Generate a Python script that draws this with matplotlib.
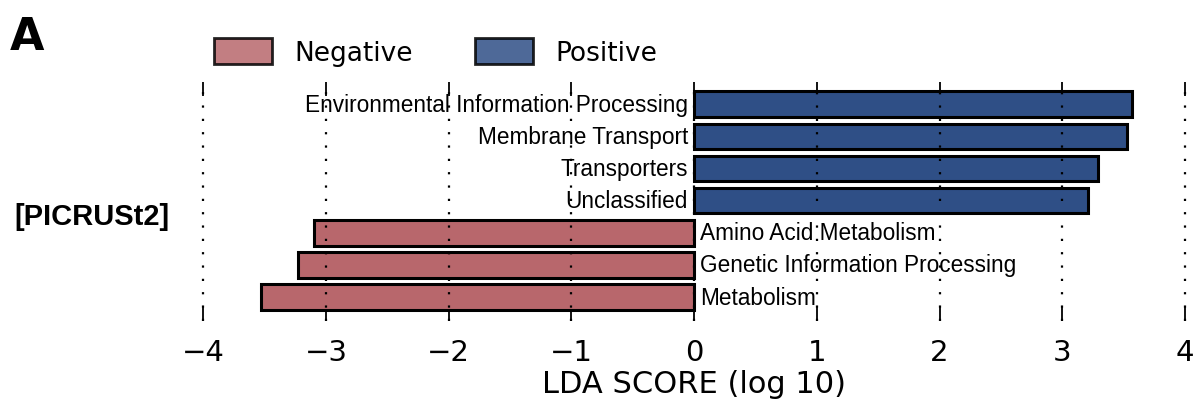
import matplotlib.pyplot as plt
from matplotlib.patches import Patch

# data, top to bottom
features = ["Environmental Information Processing", "Membrane Transport",
            "Transporters", "Unclassified", "Amino Acid Metabolism",
            "Genetic Information Processing", "Metabolism"]
lda_scores = [3.57, 3.53, 3.29, 3.21, -3.10, -3.23, -3.53]
group_names = ["Negative", "Positive"]
group_colors = {"Negative": "#b8676c", "Positive": "#2f4f86"}
x_ticks = [-4, -3, -2, -1, 0, 1, 2, 3, 4]

fig = plt.figure(figsize=(12.03, 4.14), dpi=100)
ax = fig.add_axes([0.169, 0.222, 0.816, 0.578])

n = len(features)
ypos = [n - 1 - i for i in range(n)]
colors = [group_colors["Positive"] if v > 0 else group_colors["Negative"] for v in lda_scores]
ax.barh(ypos, lda_scores, height=0.8, color=colors, edgecolor="black",
        linewidth=2.2, zorder=2)

for y, v, name in zip(ypos, lda_scores, features):
    if v > 0:
        ax.text(-0.05, y, name, ha="right", va="center", fontsize=16.3,
                family="Liberation Sans", zorder=1)
    else:
        ax.text(0.05, y, name, ha="left", va="center", fontsize=16.3,
                family="Liberation Sans", zorder=1)

ax.set_xlim(-4, 4)
ylim = (-0.75, n - 0.3)
ax.set_ylim(*ylim)
ax.set_xticks(x_ticks)
ax.set_yticks([])
for s in ax.spines.values():
    s.set_visible(False)
# dotted grid on top of the bars
ax.vlines(x_ticks, ylim[0], ylim[1], colors="black", linestyles=(0, (1, 5)),
          linewidth=1.6, zorder=5, clip_on=False)
ax.tick_params(axis="x", direction="in", length=10, width=1.3, top=True,
               labelsize=21, pad=12)
ax.set_xlabel("LDA SCORE (log 10)", fontsize=22, labelpad=2)

fig.text(0.008, 0.88, "A", fontsize=32, fontweight="bold")
fig.text(0.012, 0.477, "[PICRUSt2]", fontsize=21, fontweight="bold",
         family="Liberation Sans", va="center")

handles = [Patch(facecolor=group_colors[g], edgecolor="black", linewidth=2,
                 alpha=0.85, label=g) for g in group_names]
fig.legend(handles=handles, loc="center left", bbox_to_anchor=(0.158, 0.872),
           ncol=2, frameon=False, fontsize=19, handlelength=2.2,
           handleheight=1.1, columnspacing=2.35, handletextpad=0.85)

fig.savefig("out.png", dpi=100)
